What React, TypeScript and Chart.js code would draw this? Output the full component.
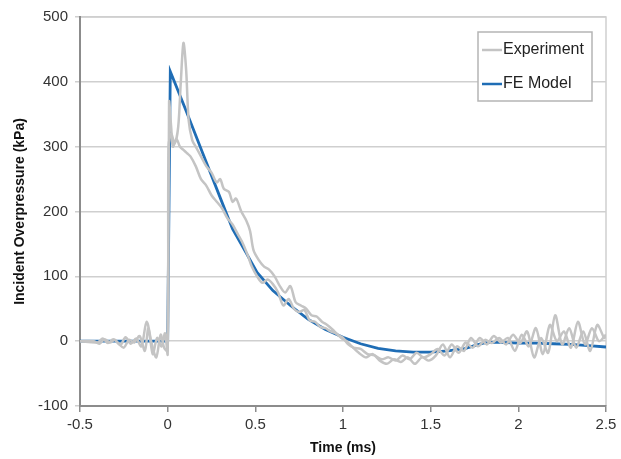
import React, { useEffect, useRef } from "react";
import { Chart, registerables } from "chart.js";

Chart.register(...registerables);

// ---- Data ----
const expATimes = [
  -0.5, -0.42, -0.39, -0.36, -0.33, -0.3, -0.27, -0.24, -0.21, -0.18, -0.15, -0.12, -0.09, -0.065, -0.04, -0.02, 0.0,
  0.005, 0.02, 0.04, 0.06, 0.075, 0.09, 0.105, 0.12, 0.14, 0.16, 0.19, 0.22, 0.25, 0.28, 0.3, 0.32, 0.35, 0.37, 0.39,
  0.42, 0.45, 0.47, 0.49, 0.52, 0.55, 0.58, 0.61, 0.64, 0.67, 0.7, 0.73, 0.76, 0.79, 0.82, 0.85, 0.88, 0.91, 0.94,
  0.97, 1.0, 1.03, 1.06, 1.1, 1.14, 1.18, 1.22, 1.26, 1.3, 1.34, 1.38, 1.42, 1.46, 1.5, 1.54, 1.58, 1.62, 1.66, 1.7,
  1.74, 1.78, 1.82, 1.86, 1.9, 1.94, 1.98, 2.02, 2.06, 2.1, 2.14, 2.18, 2.22, 2.26, 2.3, 2.34, 2.38, 2.42, 2.46, 2.5,
];
const expAValues = [
  0, 0, -4, 3, -2, 2, -6, 6, -4, 4, -8, 30, -5, -25, 10, -10, -15,
  300, 320, 305, 330, 400, 460, 420, 340, 310, 300, 285, 270, 260, 245, 250, 235, 230, 215, 220,
  200, 185, 170, 140, 125, 115, 110, 100, 85, 75, 85, 60, 55, 50, 40, 38, 30, 25, 18,
  10, 5, -5, -10, -12, -20, -22, -28, -25, -30, -22, -28, -18, -25, -20, -12, -22, -5, -18, -2,
  -10, 5, -5, 8, -2, 5, -15, 10, -8, 20, -20, 25, 0, 15, -10, 30, -5, 20, 0, 10,
];

const expBTimes = [
  -0.5, -0.4, -0.37, -0.34, -0.31, -0.28, -0.25, -0.22, -0.19, -0.16, -0.13, -0.11, -0.085, -0.06, -0.035, -0.015, 0.0,
  0.008, 0.02, 0.03, 0.05, 0.07, 0.09, 0.11, 0.13, 0.16, 0.19, 0.22, 0.25, 0.28, 0.31, 0.34, 0.37, 0.4, 0.43, 0.46,
  0.48, 0.51, 0.54, 0.57, 0.6, 0.63, 0.66, 0.69, 0.72, 0.75, 0.78, 0.81, 0.84, 0.87, 0.9, 0.93, 0.96, 0.99, 1.02,
  1.05, 1.09, 1.13, 1.17, 1.21, 1.25, 1.29, 1.33, 1.37, 1.41, 1.45, 1.49, 1.53, 1.57, 1.61, 1.65, 1.69, 1.73, 1.77,
  1.81, 1.85, 1.89, 1.93, 1.97, 2.01, 2.05, 2.09, 2.13, 2.17, 2.21, 2.25, 2.29, 2.33, 2.37, 2.41, 2.45, 2.49, 2.5,
];
const expBValues = [
  0, -2, 4, -3, 3, -4, -10, 2, -2, 8, -15, 20, -20, 5, -8, 12, -20,
  369, 330, 300, 312, 300, 295, 290, 285, 270, 250, 240, 225, 215, 205, 190, 180, 165, 150, 130,
  115, 100, 90, 95, 88, 75, 55, 65, 50, 45, 48, 32, 30, 22, 20, 15, 12, 5, 0,
  -8, -18, -25, -20, -30, -35, -28, -32, -25, -35, -25, -30, -22, -5, -25, -8, -15, 5, -8,
  2, -3, 5, -5, 10, -3, 15, -25, 5, -18, 40, -5, 20, -10, 15, -15, 25, 5, 8,
];

const feTimes = [
  -0.5, 0, 0.015, 0.1, 0.2, 0.3, 0.37, 0.45, 0.51, 0.6, 0.7, 0.8, 0.9, 1.0, 1.1, 1.2, 1.3, 1.4, 1.5, 1.6, 1.7,
  1.75, 1.8, 1.85, 1.9, 2.0, 2.1, 2.2, 2.3, 2.4, 2.5,
];
const feValues = [
  0, 0, 416, 359, 290, 221, 173, 135, 106, 78, 55, 34, 18, 6, -4, -11, -15, -17, -17, -15, -11,
  -7, -3, -2, -2, -3, -3, -4, -5, -7, -9,
];

const xTicks = [-0.5, 0, 0.5, 1, 1.5, 2, 2.5];
const yTicks = [-100, 0, 100, 200, 300, 400, 500];
const seriesNames = ["Experiment", "FE Model"];

const GRAY = "#c4c4c4";
const BLUE = "#1f6db5";
const FONT = "'Liberation Sans', Arial, sans-serif";

const zip = (xs: number[], ys: number[]) => xs.map((x, i) => ({ x, y: ys[i] }));

export default function App() {
  const ref = useRef<HTMLCanvasElement | null>(null);

  useEffect(() => {
    if (!ref.current) return;

    const framePlugin = {
      id: "frame",
      beforeDraw(chart: any) {
        const { ctx, chartArea: a } = chart;
        ctx.save();
        ctx.fillStyle = "#fff";
        ctx.fillRect(0, 0, chart.width, chart.height);
        ctx.strokeStyle = "#cfcfcf";
        ctx.lineWidth = 1.5;
        ctx.beginPath();
        ctx.moveTo(a.left, a.top);
        ctx.lineTo(a.right, a.top);
        ctx.lineTo(a.right, a.bottom);
        ctx.stroke();
        ctx.restore();
      },
      afterDraw(chart: any) {
        const { ctx } = chart;
        const bx = 478, by = 32, bw = 114, bh = 69;
        ctx.save();
        ctx.fillStyle = "#fff";
        ctx.fillRect(bx, by, bw, bh);
        ctx.strokeStyle = "#b5b5b5";
        ctx.lineWidth = 1.5;
        ctx.strokeRect(bx, by, bw, bh);
        const rows = [
          { label: seriesNames[0], color: GRAY, y: 50 },
          { label: seriesNames[1], color: BLUE, y: 84 },
        ];
        ctx.font = `16px ${FONT}`;
        ctx.textBaseline = "middle";
        ctx.textAlign = "left";
        for (const r of rows) {
          ctx.strokeStyle = r.color;
          ctx.lineWidth = 2.5;
          ctx.beginPath();
          ctx.moveTo(482, r.y);
          ctx.lineTo(502, r.y);
          ctx.stroke();
          ctx.fillStyle = "#222";
          ctx.fillText(r.label, 503, r.y);
        }
        ctx.restore();
      },
    };

    const chart = new Chart(ref.current, {
      type: "line",
      data: {
        datasets: [
          {
            label: seriesNames[0],
            data: zip(expATimes, expAValues),
            borderColor: GRAY,
            borderWidth: 2.5,
            pointRadius: 0,
            tension: 0.3,
          },
          {
            label: seriesNames[0] + " 2",
            data: zip(expBTimes, expBValues),
            borderColor: GRAY,
            borderWidth: 2.5,
            pointRadius: 0,
            tension: 0.3,
          },
          {
            label: seriesNames[1],
            data: zip(feTimes, feValues),
            borderColor: BLUE,
            borderWidth: 2.8,
            pointRadius: 0,
            tension: 0,
          },
        ],
      },
      options: {
        animation: false,
        responsive: true,
        maintainAspectRatio: false,
        layout: { padding: { left: 0, right: 15, top: 17, bottom: 0 } },
        plugins: {
          legend: { display: false },
          tooltip: { enabled: false },
        },
        scales: {
          x: {
            type: "linear",
            min: -0.5,
            max: 2.5,
            afterBuildTicks: (s: any) => {
              s.ticks = xTicks.map((v) => ({ value: v }));
            },
            afterFit: (s: any) => {
              s.height = 53;
            },
            ticks: {
              color: "#333",
              font: { family: FONT, size: 15 },
              padding: 4,
              maxRotation: 0,
              callback: (v: any) => String(v),
            },
            grid: {
              drawOnChartArea: false,
              drawTicks: true,
              tickLength: 6,
              color: "#8c8c8c",
              lineWidth: 1.5,
            },
            border: { color: "#8c8c8c", width: 2 },
            title: {
              display: true,
              text: "Time (ms)",
              font: { family: FONT, size: 14, weight: "bold" },
              color: "#111",
              padding: { top: 0, bottom: 2 },
            },
          },
          y: {
            type: "linear",
            min: -100,
            max: 500,
            afterBuildTicks: (s: any) => {
              s.ticks = yTicks.map((v) => ({ value: v }));
            },
            afterFit: (s: any) => {
              s.width = 80;
            },
            ticks: {
              color: "#333",
              font: { family: FONT, size: 15 },
              padding: 7,
            },
            grid: {
              color: "#cfcfcf",
              lineWidth: 1.5,
              tickLength: 5,
            },
            border: { color: "#8c8c8c", width: 2 },
            title: {
              display: true,
              text: "Incident Overpressure (kPa)",
              font: { family: FONT, size: 14, weight: "bold" },
              color: "#111",
              padding: { top: 12, bottom: 0 },
            },
          },
        },
      },
      plugins: [framePlugin],
    } as any);

    return () => chart.destroy();
  }, []);

  return (
    <div style={{ position: "fixed", left: 0, top: 0, width: 621, height: 459, background: "#fff" }}>
      <canvas ref={ref} />
    </div>
  );
}
